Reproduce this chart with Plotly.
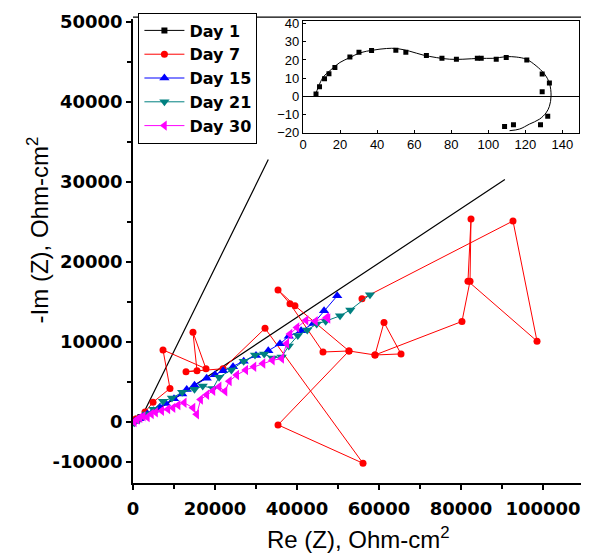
import plotly.graph_objects as go

# ---- main chart data (Re Z, -Im Z), Ohm-cm2 ----
day1_re = [300, 700, 1200, 1800]
day1_im = [100, 250, 400, 600]

day7_re = [730, 2930, 4880, 9020, 7320, 17800, 14630, 15610, 12930, 21950, 32200,
           56100, 35370, 52680, 46340, 38290, 35370, 39500, 52680, 59020, 61220,
           65370, 59020, 80240, 82200, 82440, 81700, 98540, 92680, 55850]
day7_im = [370, 1230, 2460, 4190, 9000, 6650, 11200, 6400, 6280, 6650, 11700,
           -5170, -370, 8870, 8740, 14780, 16500, 14530, 8870, 8370, 12440,
           8500, 8370, 12560, 17600, 25370, 17600, 10100, 25120, 15400]

day15_re = [500, 1500, 2500, 3500, 5000, 6500, 8000, 10000, 12000, 13100, 15000,
            17970, 20000, 22000, 24400, 27000, 30000, 33000, 35850, 38000, 41000,
            44000, 46600, 49800]
day15_im = [100, 400, 700, 1000, 1400, 1800, 2300, 2900, 3500, 4060, 4600,
            5450, 5900, 6400, 6900, 7600, 8300, 8900, 9770, 10700, 11400,
            12300, 13900, 15760]

day21_re = [300, 1500, 3340, 5000, 7320, 9500, 12000, 15000, 17000, 19500, 21000,
            24000, 27000, 29760, 32000, 34000, 36270, 38000, 40200, 42500, 44800,
            47000, 50500, 53000, 57800]
day21_im = [-100, 300, 990, 1600, 2590, 3000, 3700, 4100, 4500, 4190, 5600,
            6500, 7600, 8370, 8500, 8000, 8130, 9500, 10800, 11500, 12230,
            12600, 13260, 14000, 15900]

day30_re = [300, 1000, 1700, 2500, 3500, 4500, 5500, 7000, 8500, 9760, 11000,
            12500, 14630, 15540, 16500, 18000, 19500, 21000, 22440, 23500, 25300,
            27500, 29500, 31700, 34000, 36270, 37500, 38290, 40000, 42200, 44500,
            47240, 47560]
day30_im = [0, 300, 530, 700, 600, 1000, 1200, 1400, 1600, 1760, 2100,
            2400, 1760, 950, 2800, 3400, 3900, 4400, 3820, 5100, 5870,
            6500, 6900, 7300, 7700, 7920, 9800, 11000, 11800, 12700, 12600,
            13050, 12930]

# two straight guide lines through the origin
guide_re = [90700, 1500, 33000]
guide_im = [30300, 0, 32800]

# ---- inset data ----
inset_curve_x = [6.5, 8.3, 10.9, 14.5, 19.9, 25.3, 30.7, 37.9, 45.1, 50.5, 57.6,
                 64.8, 72.0, 79.2, 86.3, 95.3, 102.5, 109.7, 115.1, 120.5, 125.8,
                 130.3, 133.0, 133.9, 133.0, 131.2, 127.6, 122.2, 116.9, 111.5]
inset_curve_y = [0.2, 5.2, 10.6, 14.1, 18.6, 21.3, 23.9, 25.4, 26.3, 26.3, 24.8,
                 22.7, 21.3, 20.4, 20.4, 20.9, 20.9, 21.8, 21.6, 20.4, 16.8,
                 12.3, 7.3, 0.2, -5.5, -9.1, -12.6, -15.3, -18.0, -18.9]
inset_pts_x = [7.0, 8.9, 11.6, 14.0, 17.2, 25.3, 30.2, 37.0, 50.1, 55.5, 66.6,
               75.0, 82.8, 94.1, 96.2, 104.3, 109.7, 120.8, 129.1, 133.0, 129.1,
               132.1, 128.2, 113.6, 108.8]
inset_pts_y = [1.3, 5.2, 9.6, 12.4, 15.9, 21.6, 24.3, 25.2, 25.4, 24.3, 22.5,
               20.9, 20.4, 20.9, 20.9, 20.4, 21.3, 20.0, 12.3, 7.3, 2.5,
               -10.9, -15.7, -15.7, -16.6]

main_xticks = [0, 20000, 40000, 60000, 80000, 100000]
main_xticktext = ["0", "20000", "40000", "60000", "80000", "100000"]
main_yticks = [-5000, 0, 10000, 20000, 30000, 40000, 50000]
main_yticktext = ["-10000", "0", "10000", "20000", "30000", "40000", "50000"]

fig = go.Figure()

fig.add_trace(go.Scatter(x=guide_re, y=guide_im, mode="lines",
                         line=dict(color="black", width=1.2),
                         showlegend=False, hoverinfo="skip"))

series = [
    ("Day 1", day1_re, day1_im, "black", "square", 6),
    ("Day 7", day7_re, day7_im, "#ff0000", "circle", 7),
    ("Day 15", day15_re, day15_im, "#0000ff", "triangle-up", 9),
    ("Day 21", day21_re, day21_im, "#008080", "triangle-down", 9),
    ("Day 30", day30_re, day30_im, "#ff00ff", "triangle-left", 9),
]
for name, xs, ys, color, symbol, size in series:
    fig.add_trace(go.Scatter(
        x=xs, y=ys, mode="lines+markers", name=name,
        line=dict(color=color, width=1),
        marker=dict(color=color, symbol=symbol, size=size),
    ))

# inset
fig.add_trace(go.Scatter(x=inset_curve_x, y=inset_curve_y, mode="lines",
                         line=dict(color="black", width=1, shape="spline"),
                         xaxis="x2", yaxis="y2", showlegend=False))
fig.add_trace(go.Scatter(x=inset_pts_x, y=inset_pts_y, mode="markers",
                         marker=dict(color="black", symbol="square", size=5),
                         xaxis="x2", yaxis="y2", showlegend=False))

tick_font = dict(family="DejaVu Sans", size=18, color="black", weight="bold")
title_font = dict(family="Arial, Liberation Sans", size=24, color="black")
inset_font = dict(family="Arial, Liberation Sans", size=13, color="black")

# page body adds an 8px offset, so the figure is drawn 8px smaller
fig.update_layout(
    width=581, height=549,
    margin=dict(l=125, r=5, t=4, b=74),
    paper_bgcolor="white", plot_bgcolor="white",
    showlegend=True,
    legend=dict(x=0.012, y=1.014, xanchor="left", yanchor="top",
                bordercolor="black", borderwidth=1, bgcolor="white",
                font=dict(family="DejaVu Sans", size=16,
                          color="black", weight="bold"),
                tracegroupgap=0, itemwidth=40),
    xaxis=dict(range=[0, 110000], tickvals=main_xticks,
               ticktext=main_xticktext, automargin=False,
               showline=True, linecolor="black", linewidth=1.5,
               ticks="outside", ticklen=5, tickcolor="black", tickwidth=1.5,
               minor=dict(tickvals=[10000, 30000, 50000, 70000, 90000, 110000],
                          ticks="outside", ticklen=4, tickcolor="black"),
               showgrid=False, zeroline=False, tickfont=tick_font,
               ticklabelstandoff=4),
    yaxis=dict(range=[-7635, 50370], tickvals=main_yticks,
               ticktext=main_yticktext, automargin=False,
               showline=True, linecolor="black", linewidth=1.5,
               ticks="outside", ticklen=5, tickcolor="black", tickwidth=1.5,
               minor=dict(tickvals=[5000, 15000, 25000, 35000, 45000],
                          ticks="outside", ticklen=4, tickcolor="black"),
               showgrid=False, zeroline=False, tickfont=tick_font,
               ticklabelstandoff=0),
    xaxis2=dict(domain=[0.377, 0.989], anchor="y2", range=[0, 149],
                tickvals=[0, 20, 40, 60, 80, 100, 120, 140],
                showline=True, mirror=True, linecolor="black", linewidth=1.2,
                ticks="inside", ticklen=3, tickcolor="black",
                showgrid=False, zeroline=False, tickfont=inset_font),
    yaxis2=dict(domain=[0.755, 0.996], anchor="x2", range=[-20, 41.5],
                tickvals=[-20, -10, 0, 10, 20, 30, 40],
                showline=True, mirror=True, linecolor="black", linewidth=1.2,
                ticks="inside", ticklen=3, tickcolor="black",
                showgrid=False, zeroline=True, zerolinecolor="black",
                zerolinewidth=1, tickfont=inset_font),
    annotations=[
        dict(text="Re (Z), Ohm-cm<sup>2</sup>", xref="paper", yref="paper",
             x=0.5, y=-0.118, xanchor="center", yanchor="middle",
             showarrow=False, font=title_font),
        dict(text="-Im (Z), Ohm-cm<sup>2</sup>", xref="paper", yref="paper",
             x=-0.21, y=0.545, xanchor="center", yanchor="middle",
             textangle=-90, showarrow=False, font=title_font),
    ],
    shapes=[
        dict(type="rect", xref="paper", yref="paper", x0=0.377, x1=0.989,
             y0=0.755, y1=0.996, fillcolor="white", line=dict(width=0),
             layer="below"),
        dict(type="line", xref="paper", yref="paper", x0=0, x1=1.002,
             y0=1.004, y1=1.004, line=dict(color="black", width=1.2)),
        dict(type="line", xref="paper", yref="paper", x0=1.002, x1=1.002,
             y0=1.004, y1=0.718, line=dict(color="black", width=1.2)),
    ],
)

fig.write_html("out.html")
